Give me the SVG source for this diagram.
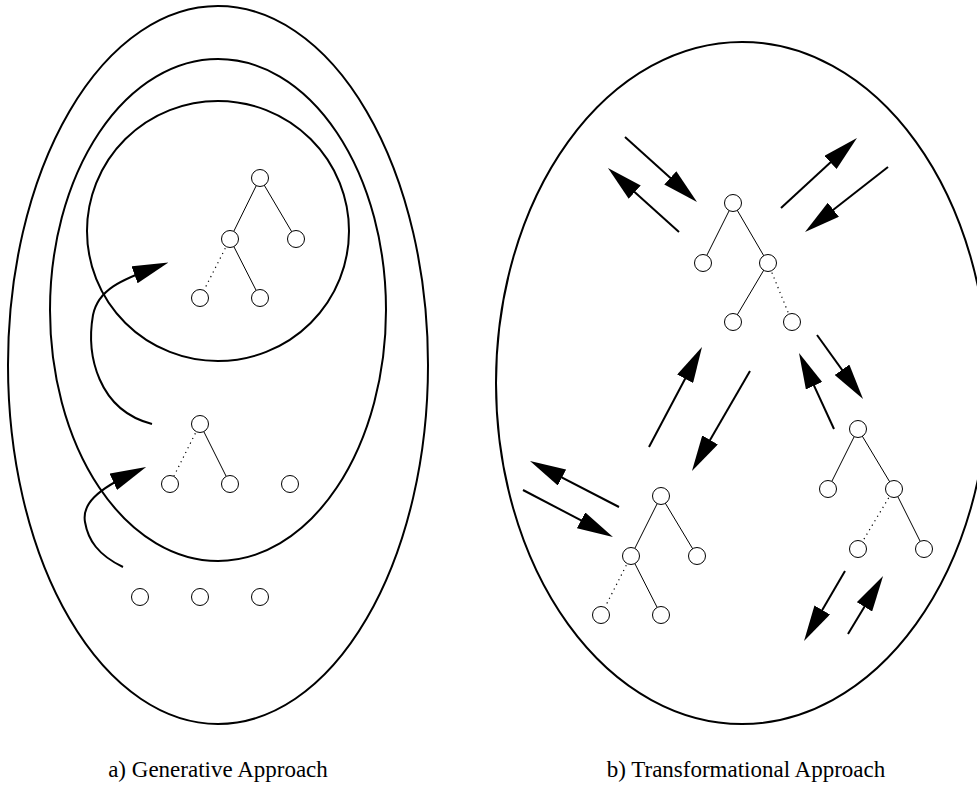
<svg xmlns="http://www.w3.org/2000/svg" width="977" height="785" viewBox="0 0 977 785">
<style>
.ell{fill:none;stroke:#000;stroke-width:2}
.node circle{fill:#fff;stroke:#000;stroke-width:1}
.edge{stroke:#000;stroke-width:1;fill:none}
.dot{stroke:#000;stroke-width:1.2;fill:none;stroke-dasharray:1.2 4}
.arr{stroke:#000;stroke-width:2;fill:none;marker-end:url(#ah)}
.lbl{font-family:"Liberation Serif","Times New Roman",serif;font-size:23px;fill:#000;text-anchor:middle}
</style>
<defs>
<marker id="ah" viewBox="0 0 36 18" refX="26" refY="9" markerWidth="36" markerHeight="18" markerUnits="userSpaceOnUse" orient="auto">
<path d="M0,0 L36,9 L0,18 z" fill="#000"/>
</marker>
</defs>
<rect width="977" height="785" fill="#fff"/>
<g id="regions">
<ellipse id="outer-a" class="ell" cx="218" cy="365" rx="210" ry="359"/>
<ellipse id="middle-a" class="ell" cx="218" cy="310" rx="168" ry="251"/>
<ellipse id="inner-a" class="ell" cx="218" cy="231" rx="131" ry="130"/>
<ellipse id="space-b" class="ell" cx="742" cy="383" rx="246" ry="341"/>
</g>
<g id="connectors">
<!-- left inner tree -->
<line class="edge" x1="260" y1="178" x2="230" y2="239"/>
<line class="edge" x1="260" y1="178" x2="296" y2="239"/>
<line class="dot" x1="230" y1="239" x2="200" y2="298"/>
<line class="edge" x1="230" y1="239" x2="260" y2="298"/>
<!-- left middle tree -->
<line class="dot" x1="200" y1="424" x2="170" y2="484"/>
<line class="edge" x1="200" y1="424" x2="230" y2="484"/>
<!-- right top tree -->
<line class="edge" x1="733" y1="203" x2="703" y2="263"/>
<line class="edge" x1="733" y1="203" x2="768" y2="263"/>
<line class="edge" x1="768" y1="263" x2="733" y2="322"/>
<line class="dot" x1="768" y1="263" x2="792" y2="322"/>
<!-- right bottom-left tree -->
<line class="edge" x1="661" y1="496" x2="631" y2="556"/>
<line class="edge" x1="661" y1="496" x2="697" y2="556"/>
<line class="dot" x1="631" y1="556" x2="601" y2="615"/>
<line class="edge" x1="631" y1="556" x2="661" y2="615"/>
<!-- right bottom-right tree -->
<line class="edge" x1="858" y1="429" x2="828" y2="489"/>
<line class="edge" x1="858" y1="429" x2="894" y2="489"/>
<line class="dot" x1="894" y1="489" x2="858" y2="549"/>
<line class="edge" x1="894" y1="489" x2="924" y2="549"/>
<!-- generative arrows -->
<path class="arr" d="M152,424 C98,410 86,355 93,315 C98,290 120,280 159,266"/>
<path class="arr" d="M123,567 C98,555 88,540 85,522 C82,505 95,490 137,471"/>
<!-- transformational arrows -->
<line class="arr" x1="625" y1="137" x2="689.6" y2="195.3"/>
<line class="arr" x1="679" y1="232" x2="615.4" y2="174.7"/>
<line class="arr" x1="781" y1="208" x2="849.6" y2="144.8"/>
<line class="arr" x1="888" y1="167" x2="812.9" y2="225.8"/>
<line class="arr" x1="649" y1="447" x2="697.3" y2="355.8"/>
<line class="arr" x1="750" y1="371" x2="697" y2="462.4"/>
<line class="arr" x1="834" y1="429" x2="803.2" y2="362.1"/>
<line class="arr" x1="817" y1="335" x2="857.2" y2="390.9"/>
<line class="arr" x1="619" y1="507" x2="538.9" y2="465.6"/>
<line class="arr" x1="523" y1="490" x2="604.1" y2="532.4"/>
<line class="arr" x1="845" y1="571" x2="809.1" y2="632.4"/>
<line class="arr" x1="848" y1="634" x2="877.9" y2="584.6"/>
</g>
<g id="nodes">
<g id="a-t1-root" class="node"><circle cx="260" cy="178" r="8.5"/></g>
<g id="a-t1-l" class="node"><circle cx="230" cy="239" r="8.5"/></g>
<g id="a-t1-r" class="node"><circle cx="296" cy="239" r="8.5"/></g>
<g id="a-t1-ll" class="node"><circle cx="200" cy="298" r="8.5"/></g>
<g id="a-t1-lr" class="node"><circle cx="260" cy="298" r="8.5"/></g>
<g id="a-t2-root" class="node"><circle cx="200" cy="424" r="8.5"/></g>
<g id="a-t2-l" class="node"><circle cx="170" cy="484" r="8.5"/></g>
<g id="a-t2-m" class="node"><circle cx="230" cy="484" r="8.5"/></g>
<g id="a-t2-r" class="node"><circle cx="290" cy="484" r="8.5"/></g>
<g id="a-t3-1" class="node"><circle cx="140" cy="597" r="8.5"/></g>
<g id="a-t3-2" class="node"><circle cx="200" cy="597" r="8.5"/></g>
<g id="a-t3-3" class="node"><circle cx="260" cy="597" r="8.5"/></g>
<g id="b-t1-root" class="node"><circle cx="733" cy="203" r="8.5"/></g>
<g id="b-t1-l" class="node"><circle cx="703" cy="263" r="8.5"/></g>
<g id="b-t1-r" class="node"><circle cx="768" cy="263" r="8.5"/></g>
<g id="b-t1-rl" class="node"><circle cx="733" cy="322" r="8.5"/></g>
<g id="b-t1-rr" class="node"><circle cx="792" cy="322" r="8.5"/></g>
<g id="b-t2-root" class="node"><circle cx="661" cy="496" r="8.5"/></g>
<g id="b-t2-l" class="node"><circle cx="631" cy="556" r="8.5"/></g>
<g id="b-t2-r" class="node"><circle cx="697" cy="556" r="8.5"/></g>
<g id="b-t2-ll" class="node"><circle cx="601" cy="615" r="8.5"/></g>
<g id="b-t2-lr" class="node"><circle cx="661" cy="615" r="8.5"/></g>
<g id="b-t3-root" class="node"><circle cx="858" cy="429" r="8.5"/></g>
<g id="b-t3-l" class="node"><circle cx="828" cy="489" r="8.5"/></g>
<g id="b-t3-r" class="node"><circle cx="894" cy="489" r="8.5"/></g>
<g id="b-t3-rl" class="node"><circle cx="858" cy="549" r="8.5"/></g>
<g id="b-t3-rr" class="node"><circle cx="924" cy="549" r="8.5"/></g>
</g>
<g id="labels">
<text class="lbl" x="218" y="777">a) Generative Approach</text>
<text class="lbl" x="746" y="777">b) Transformational Approach</text>
</g>
</svg>
